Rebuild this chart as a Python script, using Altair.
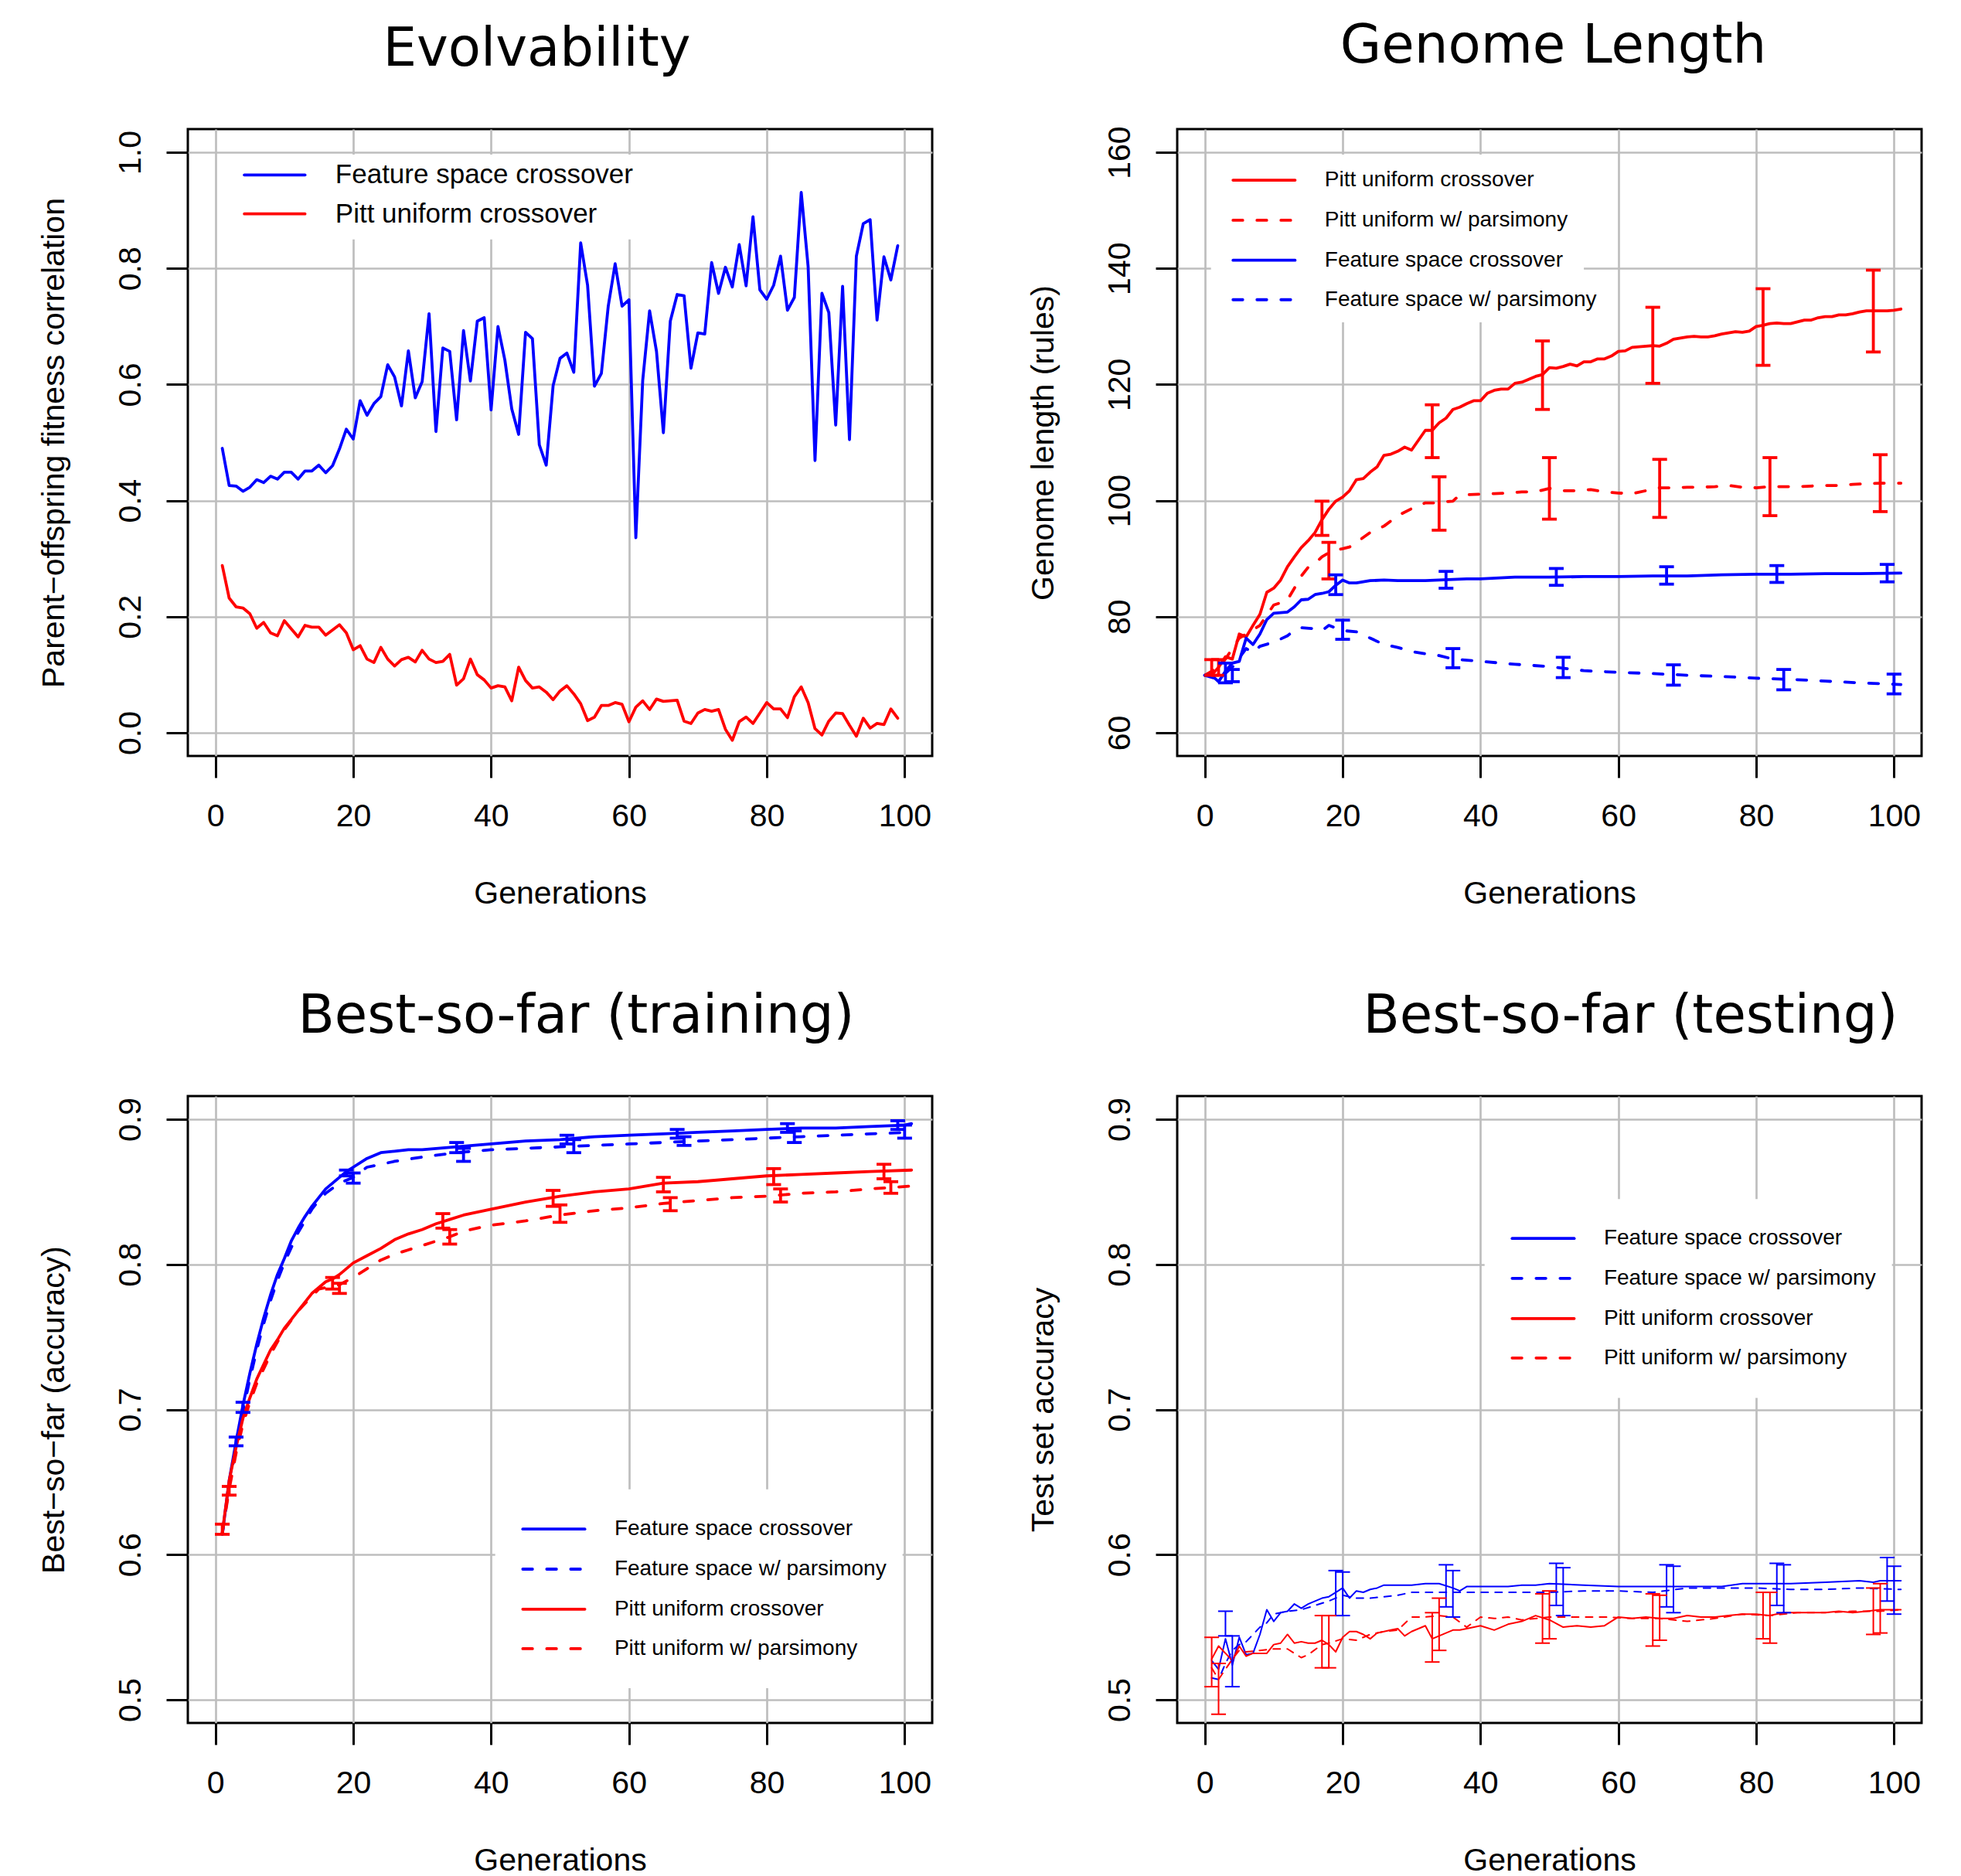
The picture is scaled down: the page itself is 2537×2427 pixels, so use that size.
import altair as alt
import pandas as pd

# ---------------- data ----------------
# Panel 1: Evolvability
evo_gen = list(range(1, 100))
evo_feature = [0.490, 0.426, 0.425, 0.416, 0.423, 0.436, 0.431, 0.442, 0.437, 0.449,
               0.449, 0.437, 0.451, 0.451, 0.461, 0.448, 0.460, 0.489, 0.523, 0.506,
               0.572, 0.547, 0.567, 0.579, 0.634, 0.613, 0.563, 0.658, 0.577, 0.605,
               0.722, 0.519, 0.663, 0.657, 0.539, 0.693, 0.606, 0.709, 0.715, 0.556,
               0.700, 0.642, 0.558, 0.514, 0.690, 0.679, 0.496, 0.461, 0.598, 0.645,
               0.654, 0.621, 0.844, 0.771, 0.597, 0.619, 0.735, 0.808, 0.735, 0.746,
               0.336, 0.607, 0.727, 0.657, 0.517, 0.709, 0.755, 0.753, 0.628, 0.689,
               0.687, 0.810, 0.757, 0.802, 0.768, 0.841, 0.770, 0.889, 0.763, 0.747,
               0.771, 0.821, 0.728, 0.750, 0.931, 0.803, 0.469, 0.757, 0.724, 0.530,
               0.769, 0.505, 0.821, 0.877, 0.884, 0.711, 0.820, 0.780, 0.839]
evo_pitt = [0.288, 0.232, 0.217, 0.215, 0.205, 0.180, 0.190, 0.172, 0.167, 0.193,
            0.179, 0.165, 0.185, 0.182, 0.182, 0.168, 0.177, 0.186, 0.172, 0.143,
            0.150, 0.127, 0.121, 0.147, 0.127, 0.115, 0.126, 0.130, 0.122, 0.142,
            0.127, 0.121, 0.123, 0.135, 0.082, 0.093, 0.127, 0.100, 0.091, 0.077,
            0.081, 0.079, 0.055, 0.113, 0.090, 0.077, 0.079, 0.070, 0.057, 0.072,
            0.081, 0.067, 0.050, 0.021, 0.027, 0.047, 0.047, 0.052, 0.049, 0.019,
            0.044, 0.055, 0.040, 0.058, 0.054, 0.055, 0.056, 0.020, 0.016, 0.034,
            0.040, 0.037, 0.040, 0.006, -0.013, 0.019, 0.027, 0.016, 0.034, 0.052,
            0.041, 0.041, 0.026, 0.062, 0.079, 0.052, 0.007, -0.004, 0.020, 0.034,
            0.033, 0.013, -0.006, 0.025, 0.008, 0.016, 0.014, 0.041, 0.025]

# error-bar generations (same in panels 2-4)
err_x_pitt = [1, 17, 33, 49, 65, 81, 97]
err_x_pittp = [2, 18, 34, 50, 66, 82, 98]
err_x_feat = [3, 19, 35, 51, 67, 83, 99]
err_x_featp = [4, 20, 36, 52, 68, 84, 100]

# Panel 2: Genome length
gl_pitt_x = list(range(0, 102))
gl_pitt_y = [69.9, 69.9, 71.3, 73.1, 72.7, 77.0, 76.5, 78.5, 80.4, 84.2,
             84.9, 86.3, 88.6, 90.3, 91.9, 93.1, 94.5, 96.7, 98.5, 99.9,
             100.6, 101.7, 103.6, 103.8, 104.9, 105.8, 107.8, 108.0, 108.5, 109.2,
             108.7, 110.4, 112.1, 112.1, 113.4, 114.2, 115.7, 116.1, 116.7, 117.2,
             117.2, 118.5, 119.0, 119.2, 119.2, 120.2, 120.4, 120.9, 121.4, 121.7,
             122.9, 122.8, 123.1, 123.5, 123.2, 123.9, 123.9, 124.4, 124.4, 124.9,
             125.7, 125.8, 126.4, 126.5, 126.6, 126.7, 126.6, 127.1, 127.8, 128.0,
             128.2, 128.3, 128.2, 128.2, 128.4, 128.7, 128.9, 129.1, 129.0, 129.2,
             130.0, 130.2, 130.5, 130.6, 130.5, 130.5, 130.8, 131.1, 131.1, 131.5,
             131.7, 131.7, 132.0, 132.0, 132.2, 132.5, 132.7, 132.7, 132.7, 132.7,
             132.8, 133.0]
gl_pittp_x = [0, 2, 3, 5, 6, 8, 10, 11, 12, 13, 14, 15, 16, 17, 18, 19, 20, 21, 22,
              24, 26, 28, 30, 32, 34, 35, 36, 37, 38, 40, 42, 44, 46, 48, 50, 52, 54,
              56, 58, 60, 62, 64, 66, 68, 70, 72, 74, 76, 78, 80, 82, 84, 86, 88, 90,
              92, 94, 96, 98, 100, 101]
gl_pittp_y = [69.9, 71.3, 72.7, 76.3, 77.0, 78.5, 82.0, 82.4, 82.9, 84.9, 87.0, 88.5,
              89.2, 90.3, 91.0, 91.5, 91.7, 92.0, 92.8, 94.5, 95.6, 97.4, 98.6, 99.6,
              99.6, 99.8, 99.9, 101.0, 101.0, 101.1, 101.2, 101.3, 101.5, 101.5, 102.1,
              101.7, 101.7, 101.9, 101.5, 101.3, 101.2, 101.7, 102.2, 102.2, 102.3,
              102.3, 102.4, 102.6, 102.3, 102.2, 102.4, 102.4, 102.4, 102.5, 102.6,
              102.6, 102.8, 102.9, 103.0, 103.0, 103.0]
gl_feat_x = [0, 1, 2, 3, 4, 5, 6, 7, 8, 9, 10, 11, 12, 13, 14, 15, 16, 17, 18, 19, 20,
             21, 22, 23, 24, 26, 28, 30, 32, 34, 36, 38, 40, 45, 50, 55, 60, 65, 70, 75,
             80, 85, 90, 95, 101]
gl_feat_y = [69.9, 69.9, 68.8, 70.6, 72.0, 72.3, 76.3, 75.2, 77.0, 79.5, 80.6, 80.7,
             80.8, 81.7, 82.9, 83.0, 83.8, 84.0, 84.3, 85.4, 86.3, 85.8, 85.8, 86.0,
             86.2, 86.3, 86.2, 86.2, 86.2, 86.3, 86.4, 86.5, 86.5, 86.8, 86.8, 86.9,
             86.9, 87.0, 87.0, 87.2, 87.3, 87.3, 87.4, 87.4, 87.5]
gl_featp_x = [0, 2, 4, 6, 7, 8, 10, 12, 13, 14, 16, 17, 18, 20, 22, 24, 26, 28, 30, 32,
              34, 36, 40, 45, 50, 55, 60, 65, 70, 75, 80, 85, 90, 95, 101]
gl_featp_y = [69.9, 69.2, 71.3, 74.5, 73.8, 74.9, 75.6, 76.7, 77.7, 78.1, 77.9, 77.6,
              78.5, 77.6, 77.4, 76.3, 75.2, 74.7, 74.0, 73.6, 73.3, 72.7, 72.3, 71.8,
              71.4, 70.7, 70.4, 70.2, 69.9, 69.7, 69.4, 69.2, 68.9, 68.6, 68.3]
gl_err_pitt_lo = [69.9, 94.0, 107.4, 115.7, 120.2, 123.3, 125.6]
gl_err_pitt_hi = [72.6, 99.9, 116.5, 127.5, 133.3, 136.5, 139.7]
gl_err_pittp_lo = [69.9, 86.5, 94.9, 96.8, 97.1, 97.4, 98.1]
gl_err_pittp_hi = [72.6, 92.8, 104.1, 107.4, 107.1, 107.4, 107.9]
gl_err_feat_lo = [68.6, 83.8, 84.9, 85.4, 85.6, 85.9, 86.0]
gl_err_feat_hi = [72.0, 87.2, 87.8, 88.3, 88.6, 88.8, 89.0]
gl_err_featp_lo = [68.8, 76.1, 71.2, 69.5, 68.2, 67.4, 66.7]
gl_err_featp_hi = [70.9, 79.4, 74.5, 73.0, 71.7, 70.9, 70.1]

# Panel 3: Best-so-far (training)
tr_feat_x = [1, 2, 3, 4, 5, 6, 7, 8, 9, 10, 11, 12, 13, 14, 15, 16, 17, 18, 19, 20,
             22, 24, 26, 28, 30, 35, 40, 45, 50, 55, 60, 65, 70, 75, 80, 85, 90, 95, 100, 101]
tr_feat_y = [0.614, 0.651, 0.678, 0.703, 0.725, 0.745, 0.763, 0.779, 0.793, 0.804,
             0.816, 0.825, 0.833, 0.840, 0.846, 0.852, 0.856, 0.860, 0.864, 0.867,
             0.873, 0.877, 0.878, 0.879, 0.879, 0.881, 0.883, 0.885, 0.886, 0.888,
             0.889, 0.890, 0.891, 0.892, 0.893, 0.894, 0.894, 0.895, 0.896, 0.897]
tr_featp_x = [1, 2, 3, 4, 5, 6, 7, 8, 9, 10, 12, 14, 15, 16, 18, 20, 22, 24, 26, 30,
              35, 40, 45, 50, 55, 60, 65, 70, 75, 80, 85, 90, 95, 101]
tr_featp_y = [0.614, 0.648, 0.674, 0.699, 0.721, 0.741, 0.759, 0.775, 0.789, 0.801,
              0.822, 0.838, 0.844, 0.849, 0.856, 0.860, 0.867, 0.869, 0.871, 0.874,
              0.877, 0.879, 0.880, 0.881, 0.882, 0.883, 0.884, 0.885, 0.886, 0.887,
              0.888, 0.889, 0.890, 0.891]
tr_pitt_x = [1, 2, 3, 4, 5, 6, 7, 8, 9, 10, 11, 12, 13, 14, 15, 16, 17, 18, 19, 20,
             22, 24, 26, 28, 30, 32, 34, 36, 38, 40, 45, 50, 55, 60, 65, 70, 75, 80,
             85, 90, 95, 101]
tr_pitt_y = [0.615, 0.651, 0.674, 0.694, 0.708, 0.721, 0.731, 0.741, 0.748, 0.756,
             0.762, 0.768, 0.774, 0.780, 0.784, 0.788, 0.790, 0.793, 0.797, 0.801,
             0.806, 0.811, 0.817, 0.821, 0.824, 0.828, 0.831, 0.834, 0.836, 0.838,
             0.843, 0.847, 0.850, 0.852, 0.856, 0.857, 0.859, 0.861, 0.862, 0.863,
             0.864, 0.865]
tr_pittp_x = [1, 2, 3, 4, 5, 6, 8, 10, 12, 15, 18, 20, 22, 24, 26, 28, 30, 32, 34, 36,
              40, 45, 50, 55, 60, 65, 70, 75, 80, 85, 90, 95, 101]
tr_pittp_y = [0.615, 0.645, 0.670, 0.690, 0.705, 0.718, 0.738, 0.755, 0.768, 0.783,
              0.786, 0.791, 0.797, 0.803, 0.807, 0.810, 0.813, 0.816, 0.819, 0.823,
              0.827, 0.830, 0.834, 0.837, 0.839, 0.842, 0.844, 0.846, 0.847, 0.849,
              0.850, 0.852, 0.854]
tr_err_feat_lo = [0.675, 0.861, 0.877, 0.883, 0.887, 0.891, 0.893]
tr_err_feat_hi = [0.681, 0.865, 0.884, 0.889, 0.893, 0.897, 0.899]
tr_err_featp_lo = [0.698, 0.856, 0.871, 0.877, 0.882, 0.884, 0.887]
tr_err_featp_hi = [0.705, 0.863, 0.880, 0.886, 0.888, 0.892, 0.896]
tr_err_pitt_lo = [0.614, 0.783, 0.825, 0.840, 0.850, 0.855, 0.859]
tr_err_pitt_hi = [0.621, 0.791, 0.835, 0.851, 0.860, 0.866, 0.869]
tr_err_pittp_lo = [0.641, 0.780, 0.814, 0.829, 0.837, 0.843, 0.849]
tr_err_pittp_hi = [0.647, 0.787, 0.824, 0.841, 0.846, 0.852, 0.857]

# Panel 4: Best-so-far (testing)
te_feat_x = [1, 2, 3, 4, 5, 6, 7, 8, 9, 10, 11, 12, 13, 14, 15, 16, 17, 18, 19, 20,
             21, 22, 23, 24, 25, 26, 28, 30, 32, 34, 36, 37, 38, 40, 42, 44, 46, 48,
             50, 55, 60, 65, 70, 75, 78, 80, 85, 90, 95, 97, 98, 101]
te_feat_y = [0.527, 0.521, 0.542, 0.524, 0.543, 0.531, 0.532, 0.545, 0.562, 0.554,
             0.560, 0.561, 0.566, 0.563, 0.566, 0.568, 0.570, 0.571, 0.574, 0.577,
             0.570, 0.575, 0.574, 0.576, 0.577, 0.579, 0.579, 0.579, 0.580, 0.580,
             0.577, 0.575, 0.578, 0.578, 0.578, 0.578, 0.579, 0.579, 0.580, 0.579,
             0.578, 0.578, 0.578, 0.578, 0.580, 0.580, 0.580, 0.581, 0.582, 0.581,
             0.582, 0.582]
te_featp_x = [1, 2, 3, 4, 5, 6, 7, 8, 9, 10, 12, 14, 16, 18, 20, 22, 24, 26, 28, 30,
              32, 34, 36, 40, 45, 50, 55, 60, 65, 70, 75, 80, 85, 90, 95, 101]
te_featp_y = [0.515, 0.514, 0.525, 0.534, 0.538, 0.540, 0.545, 0.550, 0.553, 0.559,
              0.561, 0.562, 0.565, 0.568, 0.572, 0.570, 0.570, 0.571, 0.572, 0.574,
              0.574, 0.574, 0.574, 0.574, 0.574, 0.574, 0.575, 0.575, 0.574, 0.577,
              0.577, 0.577, 0.576, 0.576, 0.577, 0.576]
te_pitt_x = list(range(1, 39)) + list(range(40, 101, 2)) + [101]
te_pitt_y = [0.528, 0.537, 0.532, 0.527, 0.537, 0.530, 0.532, 0.532, 0.532, 0.538,
             0.539, 0.545, 0.539, 0.540, 0.539, 0.539, 0.541, 0.538, 0.533, 0.543,
             0.547, 0.547, 0.545, 0.542, 0.546, 0.547, 0.548, 0.549, 0.544, 0.547,
             0.549, 0.551, 0.542, 0.544, 0.546, 0.548, 0.548, 0.549,
             0.551, 0.548, 0.552, 0.554, 0.558, 0.555, 0.550, 0.551, 0.550, 0.551,
             0.557, 0.556, 0.557, 0.556, 0.556, 0.558, 0.557, 0.557, 0.558, 0.559,
             0.559, 0.558, 0.560, 0.560, 0.560, 0.560, 0.561, 0.560, 0.561, 0.562,
             0.562, 0.562]
te_pittp_x = [1, 2, 3, 4, 5, 6, 8, 10, 12, 14, 15, 17, 18, 20, 22, 24, 26, 28, 30, 32,
              34, 36, 38, 40, 42, 44, 46, 50, 54, 58, 62, 66, 70, 74, 78, 82, 86, 90,
              94, 98, 101]
te_pittp_y = [0.522, 0.514, 0.521, 0.528, 0.534, 0.533, 0.534, 0.535, 0.535, 0.529,
              0.531, 0.538, 0.539, 0.542, 0.541, 0.545, 0.547, 0.548, 0.557, 0.557,
              0.558, 0.557, 0.550, 0.557, 0.556, 0.557, 0.555, 0.557, 0.557, 0.557,
              0.556, 0.556, 0.554, 0.556, 0.559, 0.558, 0.560, 0.560, 0.561, 0.561,
              0.562]
te_err_feat_lo = [0.544, 0.558, 0.564, 0.565, 0.564, 0.565, 0.568]
te_err_feat_hi = [0.561, 0.589, 0.593, 0.594, 0.593, 0.594, 0.598]
te_err_featp_lo = [0.509, 0.558, 0.557, 0.558, 0.560, 0.560, 0.559]
te_err_featp_hi = [0.544, 0.588, 0.589, 0.591, 0.592, 0.593, 0.592]
te_err_pitt_lo = [0.509, 0.522, 0.526, 0.539, 0.537, 0.542, 0.545]
te_err_pitt_hi = [0.543, 0.558, 0.560, 0.573, 0.573, 0.574, 0.577]
te_err_pittp_lo = [0.490, 0.522, 0.534, 0.542, 0.541, 0.539, 0.546]
te_err_pittp_hi = [0.525, 0.558, 0.570, 0.575, 0.572, 0.574, 0.580]

# text
titles = ["Evolvability", "Genome Length", "Best-so-far (training)", "Best-so-far (testing)"]
y_titles = ["Parent\u2212offspring fitness correlation", "Genome length (rules)",
            "Best\u2212so\u2212far (accuracy)", "Test set accuracy"]
x_title = "Generations"
legend_evo = ["Feature space crossover", "Pitt uniform crossover"]
legend_gl = ["Pitt uniform crossover", "Pitt uniform w/ parsimony",
             "Feature space crossover", "Feature space w/ parsimony"]
legend_acc = ["Feature space crossover", "Feature space w/ parsimony",
              "Pitt uniform crossover", "Pitt uniform w/ parsimony"]
x_ticks = [0, 20, 40, 60, 80, 100]

# ---------------- style ----------------
W, H = 963, 811
BLUE, RED = "#0000FF", "#FF0000"
GRID = "#BEBEBE"
AXF = "Liberation Sans"
TF = "DejaVu Sans"
CAP = 1.07
LW = 3.8


def x_axis():
    return alt.Axis(values=x_ticks, grid=True, gridColor=GRID, gridWidth=2.7,
                    domain=False, ticks=True, tickSize=28, tickWidth=3, tickColor="black",
                    labelFont=AXF, labelFontSize=41, labelColor="black", labelPadding=62,
                    labelBaseline="alphabetic", labelFlush=False, labelOverlap=False,
                    title=x_title, titleFont=AXF, titleFontSize=41, titleFontWeight="normal",
                    titleColor="black", titleX=W / 2, titleY=190, titleAlign="center",
                    titleBaseline="alphabetic")


def y_axis(values, fmt, title):
    return alt.Axis(values=values, format=fmt, grid=True, gridColor=GRID, gridWidth=2.7,
                    domain=False, ticks=True, tickSize=28, tickWidth=3, tickColor="black",
                    labelFont=AXF, labelFontSize=41, labelColor="black", labelAngle=270,
                    labelAlign="center", labelBaseline="alphabetic", labelPadding=34,
                    labelFlush=False, labelOverlap=False,
                    title=title, titleFont=AXF, titleFontSize=41, titleFontWeight="normal",
                    titleColor="black", titleAngle=270, titleX=-161, titleY=H / 2,
                    titleAlign="center", titleBaseline="alphabetic")


def make_panel(title, dx, ydom, yvals, yfmt, ytitle, series, errors, legend, lw, elw, dash):
    xs = alt.Scale(domain=[-4, 104], nice=False, zero=False)
    ys = alt.Scale(domain=ydom, nice=False, zero=False)
    xa = x_axis()
    ya = y_axis(yvals, yfmt, ytitle)

    def X(f):
        return alt.X(f"{f}:Q", scale=xs, axis=xa)

    def Y(f):
        return alt.Y(f"{f}:Q", scale=ys, axis=ya)

    layers = []
    for xv, yv, color, dashed in series:
        df = pd.DataFrame({"x": xv, "y": yv})
        mk = dict(color=color, strokeWidth=lw, strokeCap="round", strokeJoin="round")
        if dashed:
            mk["strokeDash"] = dash
        layers.append(alt.Chart(df).mark_line(**mk).encode(x=X("x"), y=Y("y")))
    for xv, lo, hi, color in errors:
        df = pd.DataFrame({"x": xv, "lo": lo, "hi": hi})
        base = alt.Chart(df).transform_calculate(cx0=f"datum.x - {CAP}", cx1=f"datum.x + {CAP}")
        layers.append(base.mark_rule(color=color, strokeWidth=elw).encode(
            x=X("x"), y=Y("lo"), y2="hi:Q"))
        layers.append(base.mark_rule(color=color, strokeWidth=elw).encode(
            x=X("cx0"), x2="cx1:Q", y=Y("lo")))
        layers.append(base.mark_rule(color=color, strokeWidth=elw).encode(
            x=X("cx0"), x2="cx1:Q", y=Y("hi")))

    # legend (white box, samples, labels)
    bx0, bx1, by0, by1 = legend["box"]
    box = pd.DataFrame({"bx0": [bx0], "bx1": [bx1], "by0": [by0], "by1": [by1]})
    layers.append(alt.Chart(box).mark_rect(fill="white", strokeWidth=0).encode(
        x=X("bx0"), x2="bx1:Q", y=Y("by0"), y2="by1:Q"))
    for (label, color, dashed), yy in zip(legend["entries"], legend["ys"]):
        df = pd.DataFrame({"lx0": [legend["lx"][0]], "lx1": [legend["lx"][1]],
                           "y": [yy], "tx": [legend["tx"]], "label": [label]})
        mk = dict(color=color, strokeWidth=LW, strokeCap="round")
        if dashed:
            mk["strokeDash"] = [12.5, 18.5]
        layers.append(alt.Chart(df).mark_rule(**mk).encode(x=X("lx0"), x2="lx1:Q", y=Y("y")))
        layers.append(alt.Chart(df).mark_text(align="left", baseline="middle", font=AXF,
                                              fontSize=legend["fs"], color="black").encode(
            x=X("tx"), y=Y("y"), text="label:N"))

    return alt.layer(*layers).properties(
        width=W, height=H,
        title=alt.TitleParams(text=title, font=TF, fontSize=69, fontWeight="normal",
                              color="black", anchor="middle", dx=dx, offset=13,
                              baseline="alphabetic"))


THICK_DASH = [12.5, 18.5]

p1 = make_panel(
    titles[0], -30, [-0.04, 1.04], [0, 0.2, 0.4, 0.6, 0.8, 1.0], ".1f", y_titles[0],
    [(evo_gen, evo_feature, BLUE, False), (evo_gen, evo_pitt, RED, False)],
    [],
    dict(box=(0.4, 64, 0.85, 0.996), lx=(4.2, 13.0), tx=17.4, ys=[0.961, 0.894], fs=35,
         entries=[(legend_evo[0], BLUE, False), (legend_evo[1], RED, False)]),
    LW, LW, THICK_DASH)

p2 = make_panel(
    titles[1], 5, [56, 164], [60, 80, 100, 120, 140, 160], "d", y_titles[1],
    [(gl_pitt_x, gl_pitt_y, RED, False), (gl_pittp_x, gl_pittp_y, RED, True),
     (gl_feat_x, gl_feat_y, BLUE, False), (gl_featp_x, gl_featp_y, BLUE, True)],
    [(err_x_pitt, gl_err_pitt_lo, gl_err_pitt_hi, RED),
     (err_x_pittp, gl_err_pittp_lo, gl_err_pittp_hi, RED),
     (err_x_feat, gl_err_feat_lo, gl_err_feat_hi, BLUE),
     (err_x_featp, gl_err_featp_lo, gl_err_featp_hi, BLUE)],
    dict(box=(0.9, 55, 130.7, 159.6), lx=(4.1, 13.1), tx=17.4,
         ys=[155.2, 148.3, 141.4, 134.6], fs=28,
         entries=[(legend_gl[0], RED, False), (legend_gl[1], RED, True),
                  (legend_gl[2], BLUE, False), (legend_gl[3], BLUE, True)]),
    LW, LW, THICK_DASH)

p3 = make_panel(
    titles[2], 21, [0.484, 0.916], [0.5, 0.6, 0.7, 0.8, 0.9], ".1f", y_titles[2],
    [(tr_feat_x, tr_feat_y, BLUE, False), (tr_featp_x, tr_featp_y, BLUE, True),
     (tr_pitt_x, tr_pitt_y, RED, False), (tr_pittp_x, tr_pittp_y, RED, True)],
    [(err_x_feat, tr_err_feat_lo, tr_err_feat_hi, BLUE),
     (err_x_featp, tr_err_featp_lo, tr_err_featp_hi, BLUE),
     (err_x_pitt, tr_err_pitt_lo, tr_err_pitt_hi, RED),
     (err_x_pittp, tr_err_pittp_lo, tr_err_pittp_hi, RED)],
    dict(box=(40.6, 99.7, 0.508, 0.645), lx=(44.6, 53.6), tx=57.9,
         ys=[0.6176, 0.590, 0.5624, 0.5352], fs=28,
         entries=[(legend_acc[0], BLUE, False), (legend_acc[1], BLUE, True),
                  (legend_acc[2], RED, False), (legend_acc[3], RED, True)]),
    LW, LW, THICK_DASH)

p4 = make_panel(
    titles[3], 105, [0.484, 0.916], [0.5, 0.6, 0.7, 0.8, 0.9], ".1f", y_titles[3],
    [(te_feat_x, te_feat_y, BLUE, False), (te_featp_x, te_featp_y, BLUE, True),
     (te_pitt_x, te_pitt_y, RED, False), (te_pittp_x, te_pittp_y, RED, True)],
    [(err_x_feat, te_err_feat_lo, te_err_feat_hi, BLUE),
     (err_x_featp, te_err_featp_lo, te_err_featp_hi, BLUE),
     (err_x_pitt, te_err_pitt_lo, te_err_pitt_hi, RED),
     (err_x_pittp, te_err_pittp_lo, te_err_pittp_hi, RED)],
    dict(box=(40.6, 99.7, 0.708, 0.845), lx=(44.6, 53.6), tx=57.9,
         ys=[0.8179, 0.7904, 0.7627, 0.7355], fs=28,
         entries=[(legend_acc[0], BLUE, False), (legend_acc[1], BLUE, True),
                  (legend_acc[2], RED, False), (legend_acc[3], RED, True)]),
    2.0, 2.0, [9, 9])

chart = alt.concat(p1, p2, p3, p4, columns=2,
                   spacing={"row": 440, "column": 317}, bounds="flush").properties(
    padding={"left": 39, "top": 16, "right": 10, "bottom": 4},
    background="white",
).configure_view(stroke="black", strokeWidth=3)

chart.save("out.html", embed_options={"renderer": "svg", "actions": False})
